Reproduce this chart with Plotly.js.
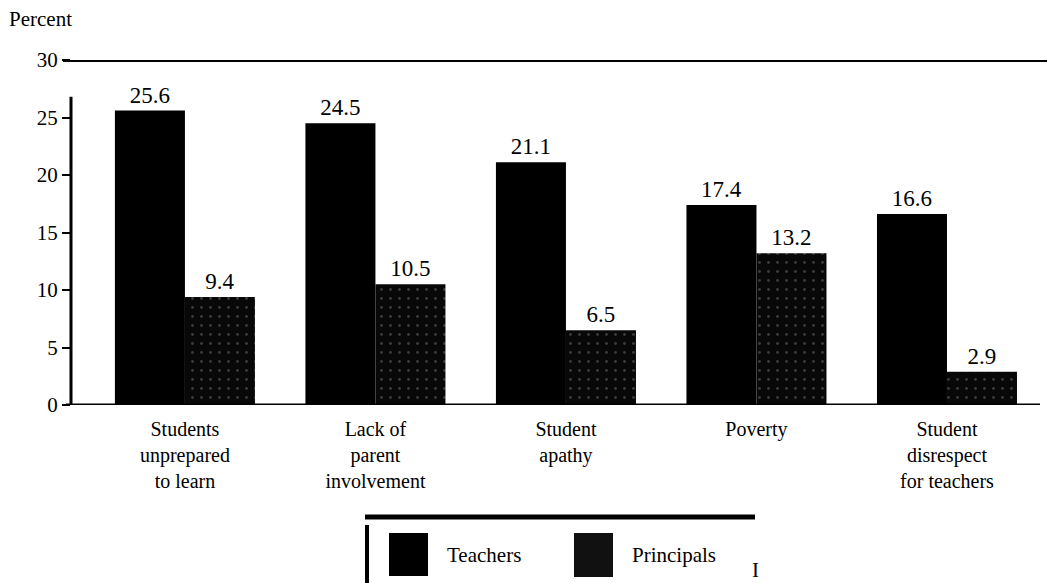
<!DOCTYPE html>
<html><head><meta charset="utf-8">
<script src="https://cdn.plot.ly/plotly-3.0.1.min.js"></script>
<style>body{margin:0;background:#fff}#c{width:1047px;height:583px}</style>
</head><body><div id="c"></div>
<script>
const categories = ["Students<br>unprepared<br>to learn", "Lack of<br>parent<br>involvement", "Student<br>apathy", "Poverty", "Student<br>disrespect<br>for teachers"];
const teachers = [25.6, 24.5, 21.1, 17.4, 16.6];
const principals = [9.4, 10.5, 6.5, 13.2, 2.9];
const yTicks = [0, 5, 10, 15, 20, 25, 30];
const seriesNames = ["Teachers", "Principals"];

const serif = "'Liberation Serif', 'Times New Roman', Times, serif";
const idx = categories.map((_, i) => i);
const fmt = v => v.toFixed(1);

// pixel helpers for paper coordinates (plot area: x 71..1047, y 60..405)
const L = 71, T = 60, W = 1047 - 71, H = 405 - 60;
const px = x => (x - L) / W;
const py = y => (T + H - y) / H;

const traces = [
  {type: 'bar', x: idx, y: teachers, name: seriesNames[0], text: teachers.map(fmt),
   textposition: 'outside', textfont: {family: serif, size: 23, color: '#000'},
   marker: {color: '#000', line: {width: 0}}, cliponaxis: false},
  {type: 'bar', x: idx, y: principals, name: seriesNames[1], text: principals.map(fmt),
   textposition: 'outside', textfont: {family: serif, size: 23, color: '#000'},
   marker: {color: '#080808', line: {width: 0},
     pattern: {shape: '.', fgcolor: '#3a3a3a', bgcolor: '#080808', size: 9, solidity: 0.08}},
   cliponaxis: false}
];

const layout = {
  width: 1047, height: 583,
  margin: {l: L, r: 0, t: T, b: 583 - 405},
  paper_bgcolor: '#fff', plot_bgcolor: '#fff',
  barmode: 'group', bargap: 0.265, bargroupgap: 0,
  showlegend: false,
  font: {family: serif, color: '#000'},
  xaxis: {range: [-0.598, 4.525], tickvals: idx, ticktext: categories,
    showline: false, ticks: '', showgrid: false, ticklabelstandoff: 10,
    zeroline: false, tickfont: {family: serif, size: 20, color: '#000'}, fixedrange: true},
  yaxis: {range: [0, 30], tickvals: yTicks, ticks: 'outside', ticklen: 8, tickwidth: 2,
    tickcolor: '#000', showline: false, showgrid: false, zeroline: false,
    tickfont: {family: serif, size: 21, color: '#000'}, ticklabelstandoff: 0},
  shapes: [
    {type: 'line', xref: 'paper', yref: 'y', x0: px(63), x1: 1, y0: 30, y1: 30, line: {color: '#000', width: 4}},
    {type: 'line', xref: 'paper', yref: 'y', x0: px(66), x1: px(1040), y0: 0, y1: 0, line: {color: '#000', width: 3}},
    {type: 'line', xref: 'paper', yref: 'y', x0: 0, x1: 0, y0: 0, y1: 26.8, line: {color: '#000', width: 3}},
    {type: 'line', xref: 'paper', yref: 'paper', x0: px(365), x1: px(755),
      y0: py(517), y1: py(517), line: {color: '#000', width: 5}},
    {type: 'line', xref: 'paper', yref: 'paper', x0: px(367), x1: px(367),
      y0: py(525), y1: py(583), line: {color: '#000', width: 4}},
    {type: 'rect', xref: 'paper', yref: 'paper', x0: px(389), x1: px(428),
      y0: py(533), y1: py(576), fillcolor: '#000', line: {width: 0}},
    {type: 'rect', xref: 'paper', yref: 'paper', x0: px(574), x1: px(613),
      y0: py(533), y1: py(577), fillcolor: '#111', line: {width: 0}}
  ],
  annotations: [
    {text: 'Percent', xref: 'paper', yref: 'paper', x: px(7), y: py(19),
      xanchor: 'left', yanchor: 'middle', showarrow: false, font: {family: serif, size: 21}},
    {text: seriesNames[0], xref: 'paper', yref: 'paper', x: px(445), y: py(555),
      xanchor: 'left', yanchor: 'middle', showarrow: false, font: {family: serif, size: 21}},
    {text: seriesNames[1], xref: 'paper', yref: 'paper', x: px(630), y: py(555),
      xanchor: 'left', yanchor: 'middle', showarrow: false, font: {family: serif, size: 21}},
    {text: 'I', xref: 'paper', yref: 'paper', x: px(750), y: py(570),
      xanchor: 'left', yanchor: 'middle', showarrow: false, font: {family: serif, size: 21}}
  ]
};

Plotly.newPlot('c', traces, layout, {displayModeBar: false, staticPlot: true});
</script></body></html>
